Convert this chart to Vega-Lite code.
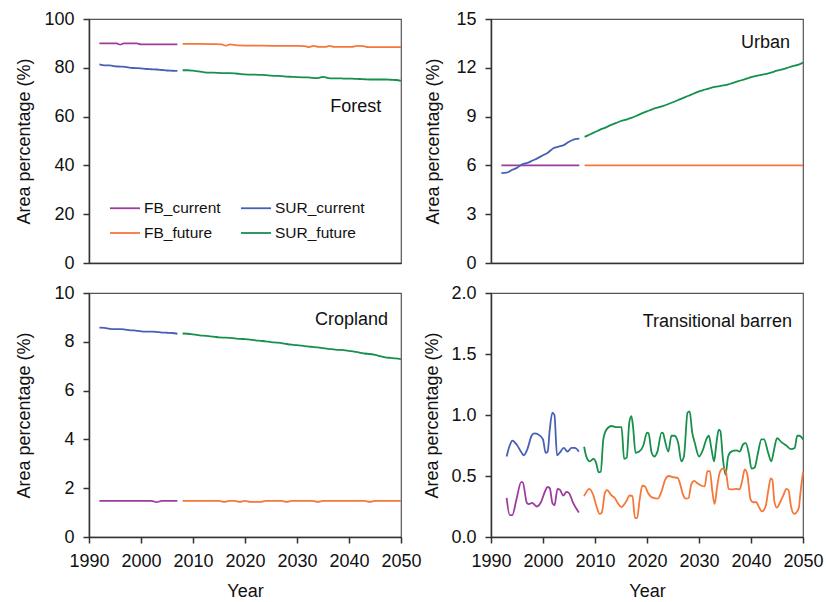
{
  "$schema": "https://vega.github.io/schema/vega-lite/v6.json",
  "padding": {"left": 15, "top": 9, "right": 0, "bottom": 2},
  "background": "white",
  "config": {
    "font": "Liberation Sans",
    "view": {"stroke": "#555555", "strokeWidth": 1.2},
    "axis": {
      "grid": false,
      "domainColor": "#333333",
      "domainWidth": 1.5,
      "tickColor": "#333333",
      "tickWidth": 1.5,
      "tickSize": 6,
      "labelFontSize": 18,
      "labelColor": "#111111",
      "labelPadding": 9,
      "labelOverlap": false,
      "labelFlush": false,
      "titleFontSize": 18,
      "titleFontWeight": "normal",
      "titleColor": "#111111"
    }
  },
  "datasets": {
    "forest": [
      {"series": "FB_current", "year": 1992, "value": 90.0},
      {"series": "FB_current", "year": 1994, "value": 90.0},
      {"series": "FB_current", "year": 1995.3, "value": 90.0},
      {"series": "FB_current", "year": 1996, "value": 89.5},
      {"series": "FB_current", "year": 1996.7, "value": 90.0},
      {"series": "FB_current", "year": 1999.2, "value": 90.0},
      {"series": "FB_current", "year": 2000, "value": 89.6},
      {"series": "FB_current", "year": 2003, "value": 89.6},
      {"series": "FB_current", "year": 2007, "value": 89.6},
      {"series": "SUR_current", "year": 1992, "value": 81.4},
      {"series": "SUR_current", "year": 1993, "value": 81.0},
      {"series": "SUR_current", "year": 1994, "value": 81.0},
      {"series": "SUR_current", "year": 1995, "value": 80.6},
      {"series": "SUR_current", "year": 1996, "value": 80.5},
      {"series": "SUR_current", "year": 1997, "value": 80.4},
      {"series": "SUR_current", "year": 1998, "value": 80.0},
      {"series": "SUR_current", "year": 1999, "value": 79.9},
      {"series": "SUR_current", "year": 2000, "value": 79.8},
      {"series": "SUR_current", "year": 2001, "value": 79.5},
      {"series": "SUR_current", "year": 2002, "value": 79.4},
      {"series": "SUR_current", "year": 2003, "value": 79.3},
      {"series": "SUR_current", "year": 2004, "value": 79.1},
      {"series": "SUR_current", "year": 2005, "value": 78.9},
      {"series": "SUR_current", "year": 2006, "value": 78.8},
      {"series": "SUR_current", "year": 2007, "value": 78.7},
      {"series": "FB_future", "year": 2008, "value": 89.8},
      {"series": "FB_future", "year": 2011, "value": 89.8},
      {"series": "FB_future", "year": 2014, "value": 89.7},
      {"series": "FB_future", "year": 2015.5, "value": 89.6},
      {"series": "FB_future", "year": 2016.3, "value": 89.1},
      {"series": "FB_future", "year": 2017.2, "value": 89.6},
      {"series": "FB_future", "year": 2018.5, "value": 89.2},
      {"series": "FB_future", "year": 2022, "value": 89.1},
      {"series": "FB_future", "year": 2026, "value": 89.0},
      {"series": "FB_future", "year": 2030, "value": 89.0},
      {"series": "FB_future", "year": 2031.5, "value": 88.9},
      {"series": "FB_future", "year": 2032.3, "value": 88.5},
      {"series": "FB_future", "year": 2033.2, "value": 89.0},
      {"series": "FB_future", "year": 2034.2, "value": 88.6},
      {"series": "FB_future", "year": 2035.5, "value": 88.6},
      {"series": "FB_future", "year": 2036.2, "value": 89.0},
      {"series": "FB_future", "year": 2037.2, "value": 88.6},
      {"series": "FB_future", "year": 2040.5, "value": 88.6},
      {"series": "FB_future", "year": 2041.6, "value": 89.0},
      {"series": "FB_future", "year": 2042.8, "value": 88.9},
      {"series": "FB_future", "year": 2043.6, "value": 88.5},
      {"series": "FB_future", "year": 2047, "value": 88.5},
      {"series": "FB_future", "year": 2050, "value": 88.5},
      {"series": "SUR_future", "year": 2008, "value": 79.0},
      {"series": "SUR_future", "year": 2009, "value": 79.0},
      {"series": "SUR_future", "year": 2010, "value": 78.8},
      {"series": "SUR_future", "year": 2011, "value": 78.5},
      {"series": "SUR_future", "year": 2012, "value": 78.2},
      {"series": "SUR_future", "year": 2013, "value": 78.0},
      {"series": "SUR_future", "year": 2014, "value": 78.0},
      {"series": "SUR_future", "year": 2015, "value": 77.9},
      {"series": "SUR_future", "year": 2016, "value": 77.8},
      {"series": "SUR_future", "year": 2017, "value": 77.8},
      {"series": "SUR_future", "year": 2018, "value": 77.7},
      {"series": "SUR_future", "year": 2019, "value": 77.5},
      {"series": "SUR_future", "year": 2020, "value": 77.3},
      {"series": "SUR_future", "year": 2021, "value": 77.2},
      {"series": "SUR_future", "year": 2022, "value": 77.2},
      {"series": "SUR_future", "year": 2023, "value": 77.1},
      {"series": "SUR_future", "year": 2024, "value": 77.0},
      {"series": "SUR_future", "year": 2025, "value": 76.8},
      {"series": "SUR_future", "year": 2026, "value": 76.7},
      {"series": "SUR_future", "year": 2027, "value": 76.6},
      {"series": "SUR_future", "year": 2028, "value": 76.4},
      {"series": "SUR_future", "year": 2029, "value": 76.3},
      {"series": "SUR_future", "year": 2030, "value": 76.2},
      {"series": "SUR_future", "year": 2031, "value": 76.1},
      {"series": "SUR_future", "year": 2032, "value": 76.1},
      {"series": "SUR_future", "year": 2033, "value": 75.9},
      {"series": "SUR_future", "year": 2034, "value": 75.8},
      {"series": "SUR_future", "year": 2035, "value": 76.3},
      {"series": "SUR_future", "year": 2036, "value": 75.8},
      {"series": "SUR_future", "year": 2037, "value": 75.7},
      {"series": "SUR_future", "year": 2038, "value": 75.7},
      {"series": "SUR_future", "year": 2039, "value": 75.6},
      {"series": "SUR_future", "year": 2040, "value": 75.6},
      {"series": "SUR_future", "year": 2041, "value": 75.5},
      {"series": "SUR_future", "year": 2042, "value": 75.4},
      {"series": "SUR_future", "year": 2043, "value": 75.3},
      {"series": "SUR_future", "year": 2044, "value": 75.2},
      {"series": "SUR_future", "year": 2045, "value": 75.2},
      {"series": "SUR_future", "year": 2046, "value": 75.2},
      {"series": "SUR_future", "year": 2047, "value": 75.2},
      {"series": "SUR_future", "year": 2048, "value": 75.1},
      {"series": "SUR_future", "year": 2049, "value": 75.0},
      {"series": "SUR_future", "year": 2050, "value": 74.6}
    ],
    "urban": [
      {"series": "FB_current", "year": 1992, "value": 6.0},
      {"series": "FB_current", "year": 2000, "value": 6.0},
      {"series": "FB_current", "year": 2007, "value": 6.0},
      {"series": "FB_future", "year": 2008, "value": 6.0},
      {"series": "FB_future", "year": 2030, "value": 6.0},
      {"series": "FB_future", "year": 2050, "value": 6.0},
      {"series": "SUR_current", "year": 1992, "value": 5.52},
      {"series": "SUR_current", "year": 1993, "value": 5.55},
      {"series": "SUR_current", "year": 1994, "value": 5.72},
      {"series": "SUR_current", "year": 1995, "value": 5.85},
      {"series": "SUR_current", "year": 1996, "value": 6.07},
      {"series": "SUR_current", "year": 1997, "value": 6.15},
      {"series": "SUR_current", "year": 1998, "value": 6.3},
      {"series": "SUR_current", "year": 1999, "value": 6.45},
      {"series": "SUR_current", "year": 2000, "value": 6.62},
      {"series": "SUR_current", "year": 2001, "value": 6.8},
      {"series": "SUR_current", "year": 2002, "value": 7.05},
      {"series": "SUR_current", "year": 2003, "value": 7.15},
      {"series": "SUR_current", "year": 2004, "value": 7.25},
      {"series": "SUR_current", "year": 2005, "value": 7.45},
      {"series": "SUR_current", "year": 2006, "value": 7.6},
      {"series": "SUR_current", "year": 2007, "value": 7.65},
      {"series": "SUR_future", "year": 2008, "value": 7.75},
      {"series": "SUR_future", "year": 2009, "value": 7.9},
      {"series": "SUR_future", "year": 2010, "value": 8.05},
      {"series": "SUR_future", "year": 2011, "value": 8.2},
      {"series": "SUR_future", "year": 2012, "value": 8.32},
      {"series": "SUR_future", "year": 2013, "value": 8.48},
      {"series": "SUR_future", "year": 2014, "value": 8.6},
      {"series": "SUR_future", "year": 2015, "value": 8.73},
      {"series": "SUR_future", "year": 2016, "value": 8.82},
      {"series": "SUR_future", "year": 2017, "value": 8.92},
      {"series": "SUR_future", "year": 2018, "value": 9.05},
      {"series": "SUR_future", "year": 2019, "value": 9.2},
      {"series": "SUR_future", "year": 2020, "value": 9.32},
      {"series": "SUR_future", "year": 2021, "value": 9.45},
      {"series": "SUR_future", "year": 2022, "value": 9.55},
      {"series": "SUR_future", "year": 2023, "value": 9.65},
      {"series": "SUR_future", "year": 2024, "value": 9.76},
      {"series": "SUR_future", "year": 2025, "value": 9.88},
      {"series": "SUR_future", "year": 2026, "value": 10.02},
      {"series": "SUR_future", "year": 2027, "value": 10.15},
      {"series": "SUR_future", "year": 2028, "value": 10.28},
      {"series": "SUR_future", "year": 2029, "value": 10.42},
      {"series": "SUR_future", "year": 2030, "value": 10.55},
      {"series": "SUR_future", "year": 2031, "value": 10.65},
      {"series": "SUR_future", "year": 2032, "value": 10.74},
      {"series": "SUR_future", "year": 2033, "value": 10.82},
      {"series": "SUR_future", "year": 2034, "value": 10.88},
      {"series": "SUR_future", "year": 2035, "value": 10.93},
      {"series": "SUR_future", "year": 2036, "value": 11.02},
      {"series": "SUR_future", "year": 2037, "value": 11.12},
      {"series": "SUR_future", "year": 2038, "value": 11.22},
      {"series": "SUR_future", "year": 2039, "value": 11.32},
      {"series": "SUR_future", "year": 2040, "value": 11.42},
      {"series": "SUR_future", "year": 2041, "value": 11.5},
      {"series": "SUR_future", "year": 2042, "value": 11.57},
      {"series": "SUR_future", "year": 2043, "value": 11.63},
      {"series": "SUR_future", "year": 2044, "value": 11.72},
      {"series": "SUR_future", "year": 2045, "value": 11.82},
      {"series": "SUR_future", "year": 2046, "value": 11.9},
      {"series": "SUR_future", "year": 2047, "value": 12.0},
      {"series": "SUR_future", "year": 2048, "value": 12.1},
      {"series": "SUR_future", "year": 2049, "value": 12.18},
      {"series": "SUR_future", "year": 2050, "value": 12.32}
    ],
    "cropland": [
      {"series": "FB_current", "year": 1992, "value": 1.48},
      {"series": "FB_current", "year": 2002, "value": 1.48},
      {"series": "FB_current", "year": 2003, "value": 1.43},
      {"series": "FB_current", "year": 2004, "value": 1.48},
      {"series": "FB_current", "year": 2007, "value": 1.48},
      {"series": "FB_future", "year": 2008, "value": 1.48},
      {"series": "FB_future", "year": 2015, "value": 1.48},
      {"series": "FB_future", "year": 2016, "value": 1.44},
      {"series": "FB_future", "year": 2017, "value": 1.48},
      {"series": "FB_future", "year": 2018, "value": 1.48},
      {"series": "FB_future", "year": 2019, "value": 1.44},
      {"series": "FB_future", "year": 2020, "value": 1.48},
      {"series": "FB_future", "year": 2021, "value": 1.44},
      {"series": "FB_future", "year": 2023, "value": 1.44},
      {"series": "FB_future", "year": 2024, "value": 1.48},
      {"series": "FB_future", "year": 2027, "value": 1.48},
      {"series": "FB_future", "year": 2028, "value": 1.44},
      {"series": "FB_future", "year": 2029, "value": 1.48},
      {"series": "FB_future", "year": 2033, "value": 1.48},
      {"series": "FB_future", "year": 2034, "value": 1.44},
      {"series": "FB_future", "year": 2035, "value": 1.48},
      {"series": "FB_future", "year": 2043, "value": 1.48},
      {"series": "FB_future", "year": 2044, "value": 1.44},
      {"series": "FB_future", "year": 2045, "value": 1.48},
      {"series": "FB_future", "year": 2050, "value": 1.48},
      {"series": "SUR_current", "year": 1992, "value": 8.58},
      {"series": "SUR_current", "year": 1993, "value": 8.57},
      {"series": "SUR_current", "year": 1994, "value": 8.53},
      {"series": "SUR_current", "year": 1995, "value": 8.52},
      {"series": "SUR_current", "year": 1996, "value": 8.52},
      {"series": "SUR_current", "year": 1997, "value": 8.5},
      {"series": "SUR_current", "year": 1998, "value": 8.47},
      {"series": "SUR_current", "year": 1999, "value": 8.46},
      {"series": "SUR_current", "year": 2000, "value": 8.43},
      {"series": "SUR_current", "year": 2001, "value": 8.42},
      {"series": "SUR_current", "year": 2002, "value": 8.42},
      {"series": "SUR_current", "year": 2003, "value": 8.41},
      {"series": "SUR_current", "year": 2004, "value": 8.38},
      {"series": "SUR_current", "year": 2005, "value": 8.37},
      {"series": "SUR_current", "year": 2006, "value": 8.36},
      {"series": "SUR_current", "year": 2007, "value": 8.33},
      {"series": "SUR_future", "year": 2008, "value": 8.34},
      {"series": "SUR_future", "year": 2009, "value": 8.33},
      {"series": "SUR_future", "year": 2010, "value": 8.3},
      {"series": "SUR_future", "year": 2011, "value": 8.27},
      {"series": "SUR_future", "year": 2012, "value": 8.25},
      {"series": "SUR_future", "year": 2013, "value": 8.23},
      {"series": "SUR_future", "year": 2014, "value": 8.21},
      {"series": "SUR_future", "year": 2015, "value": 8.18},
      {"series": "SUR_future", "year": 2016, "value": 8.17},
      {"series": "SUR_future", "year": 2017, "value": 8.16},
      {"series": "SUR_future", "year": 2018, "value": 8.14},
      {"series": "SUR_future", "year": 2019, "value": 8.12},
      {"series": "SUR_future", "year": 2020, "value": 8.11},
      {"series": "SUR_future", "year": 2021, "value": 8.09},
      {"series": "SUR_future", "year": 2022, "value": 8.06},
      {"series": "SUR_future", "year": 2023, "value": 8.04},
      {"series": "SUR_future", "year": 2024, "value": 8.02},
      {"series": "SUR_future", "year": 2025, "value": 7.99},
      {"series": "SUR_future", "year": 2026, "value": 7.97},
      {"series": "SUR_future", "year": 2027, "value": 7.95},
      {"series": "SUR_future", "year": 2028, "value": 7.91},
      {"series": "SUR_future", "year": 2029, "value": 7.88},
      {"series": "SUR_future", "year": 2030, "value": 7.86},
      {"series": "SUR_future", "year": 2031, "value": 7.84},
      {"series": "SUR_future", "year": 2032, "value": 7.81},
      {"series": "SUR_future", "year": 2033, "value": 7.79},
      {"series": "SUR_future", "year": 2034, "value": 7.77},
      {"series": "SUR_future", "year": 2035, "value": 7.74},
      {"series": "SUR_future", "year": 2036, "value": 7.71},
      {"series": "SUR_future", "year": 2037, "value": 7.69},
      {"series": "SUR_future", "year": 2038, "value": 7.67},
      {"series": "SUR_future", "year": 2039, "value": 7.66},
      {"series": "SUR_future", "year": 2040, "value": 7.63},
      {"series": "SUR_future", "year": 2041, "value": 7.6},
      {"series": "SUR_future", "year": 2042, "value": 7.56},
      {"series": "SUR_future", "year": 2043, "value": 7.52},
      {"series": "SUR_future", "year": 2044, "value": 7.5},
      {"series": "SUR_future", "year": 2045, "value": 7.46},
      {"series": "SUR_future", "year": 2046, "value": 7.41},
      {"series": "SUR_future", "year": 2047, "value": 7.36},
      {"series": "SUR_future", "year": 2048, "value": 7.34},
      {"series": "SUR_future", "year": 2049, "value": 7.32},
      {"series": "SUR_future", "year": 2050, "value": 7.29}
    ],
    "barren": [
      {"series": "SUR_current", "year": 1993.0, "value": 0.66},
      {"series": "SUR_current", "year": 1993.6, "value": 0.75},
      {"series": "SUR_current", "year": 1994.1, "value": 0.79},
      {"series": "SUR_current", "year": 1994.9, "value": 0.76},
      {"series": "SUR_current", "year": 1995.9, "value": 0.69},
      {"series": "SUR_current", "year": 1996.3, "value": 0.67},
      {"series": "SUR_current", "year": 1997.0, "value": 0.72},
      {"series": "SUR_current", "year": 1997.8, "value": 0.83},
      {"series": "SUR_current", "year": 1998.3, "value": 0.85},
      {"series": "SUR_current", "year": 1999.1, "value": 0.84},
      {"series": "SUR_current", "year": 2000.0, "value": 0.8},
      {"series": "SUR_current", "year": 2000.5, "value": 0.69},
      {"series": "SUR_current", "year": 2000.9, "value": 0.7},
      {"series": "SUR_current", "year": 2001.3, "value": 0.88},
      {"series": "SUR_current", "year": 2001.8, "value": 1.02},
      {"series": "SUR_current", "year": 2002.2, "value": 1.0},
      {"series": "SUR_current", "year": 2002.7, "value": 0.67},
      {"series": "SUR_current", "year": 2003.2, "value": 0.69},
      {"series": "SUR_current", "year": 2004.0, "value": 0.73},
      {"series": "SUR_current", "year": 2004.7, "value": 0.7},
      {"series": "SUR_current", "year": 2005.5, "value": 0.73},
      {"series": "SUR_current", "year": 2006.1, "value": 0.73},
      {"series": "SUR_current", "year": 2006.9, "value": 0.7},
      {"series": "FB_current", "year": 1993.0, "value": 0.32},
      {"series": "FB_current", "year": 1993.6, "value": 0.18},
      {"series": "FB_current", "year": 1994.1, "value": 0.18},
      {"series": "FB_current", "year": 1994.9, "value": 0.31},
      {"series": "FB_current", "year": 1995.8, "value": 0.45},
      {"series": "FB_current", "year": 1996.1, "value": 0.45},
      {"series": "FB_current", "year": 1996.9, "value": 0.28},
      {"series": "FB_current", "year": 1997.3, "value": 0.27},
      {"series": "FB_current", "year": 1997.9, "value": 0.28},
      {"series": "FB_current", "year": 1998.8, "value": 0.25},
      {"series": "FB_current", "year": 1999.6, "value": 0.285},
      {"series": "FB_current", "year": 2000.4, "value": 0.375},
      {"series": "FB_current", "year": 2000.9, "value": 0.41},
      {"series": "FB_current", "year": 2001.3, "value": 0.4},
      {"series": "FB_current", "year": 2001.8, "value": 0.28},
      {"series": "FB_current", "year": 2002.2, "value": 0.26},
      {"series": "FB_current", "year": 2002.8, "value": 0.395},
      {"series": "FB_current", "year": 2003.2, "value": 0.39},
      {"series": "FB_current", "year": 2003.9, "value": 0.34},
      {"series": "FB_current", "year": 2004.5, "value": 0.37},
      {"series": "FB_current", "year": 2005.0, "value": 0.36},
      {"series": "FB_current", "year": 2005.8, "value": 0.28},
      {"series": "FB_current", "year": 2006.9, "value": 0.2},
      {"series": "SUR_future", "year": 2007.9, "value": 0.74},
      {"series": "SUR_future", "year": 2008.4, "value": 0.65},
      {"series": "SUR_future", "year": 2009.0, "value": 0.62},
      {"series": "SUR_future", "year": 2009.7, "value": 0.64},
      {"series": "SUR_future", "year": 2010.2, "value": 0.61},
      {"series": "SUR_future", "year": 2010.7, "value": 0.53},
      {"series": "SUR_future", "year": 2011.1, "value": 0.535},
      {"series": "SUR_future", "year": 2011.6, "value": 0.8},
      {"series": "SUR_future", "year": 2012.2, "value": 0.88},
      {"series": "SUR_future", "year": 2013.2, "value": 0.91},
      {"series": "SUR_future", "year": 2014.1, "value": 0.9},
      {"series": "SUR_future", "year": 2015.1, "value": 0.9},
      {"series": "SUR_future", "year": 2015.6, "value": 0.64},
      {"series": "SUR_future", "year": 2016.1, "value": 0.65},
      {"series": "SUR_future", "year": 2016.6, "value": 0.94},
      {"series": "SUR_future", "year": 2017.0, "value": 0.99},
      {"series": "SUR_future", "year": 2017.3, "value": 0.91},
      {"series": "SUR_future", "year": 2017.8, "value": 0.69},
      {"series": "SUR_future", "year": 2018.5, "value": 0.7},
      {"series": "SUR_future", "year": 2019.3, "value": 0.75},
      {"series": "SUR_future", "year": 2020.0, "value": 0.855},
      {"series": "SUR_future", "year": 2020.3, "value": 0.85},
      {"series": "SUR_future", "year": 2020.9, "value": 0.69},
      {"series": "SUR_future", "year": 2021.4, "value": 0.66},
      {"series": "SUR_future", "year": 2022.0, "value": 0.7},
      {"series": "SUR_future", "year": 2022.8, "value": 0.855},
      {"series": "SUR_future", "year": 2023.1, "value": 0.85},
      {"series": "SUR_future", "year": 2023.4, "value": 0.8},
      {"series": "SUR_future", "year": 2024.1, "value": 0.7},
      {"series": "SUR_future", "year": 2024.7, "value": 0.83},
      {"series": "SUR_future", "year": 2025.3, "value": 0.83},
      {"series": "SUR_future", "year": 2026.0, "value": 0.77},
      {"series": "SUR_future", "year": 2026.6, "value": 0.62},
      {"series": "SUR_future", "year": 2027.1, "value": 0.66},
      {"series": "SUR_future", "year": 2027.8, "value": 1.02},
      {"series": "SUR_future", "year": 2028.2, "value": 1.03},
      {"series": "SUR_future", "year": 2028.7, "value": 0.855},
      {"series": "SUR_future", "year": 2029.2, "value": 0.77},
      {"series": "SUR_future", "year": 2030.0, "value": 0.66},
      {"series": "SUR_future", "year": 2030.8, "value": 0.72},
      {"series": "SUR_future", "year": 2031.4, "value": 0.8},
      {"series": "SUR_future", "year": 2031.9, "value": 0.83},
      {"series": "SUR_future", "year": 2032.4, "value": 0.72},
      {"series": "SUR_future", "year": 2032.9, "value": 0.62},
      {"series": "SUR_future", "year": 2033.3, "value": 0.75},
      {"series": "SUR_future", "year": 2033.8, "value": 0.88},
      {"series": "SUR_future", "year": 2034.1, "value": 0.87},
      {"series": "SUR_future", "year": 2034.6, "value": 0.64},
      {"series": "SUR_future", "year": 2035.1, "value": 0.51},
      {"series": "SUR_future", "year": 2035.6, "value": 0.66},
      {"series": "SUR_future", "year": 2036.2, "value": 0.7},
      {"series": "SUR_future", "year": 2037.2, "value": 0.71},
      {"series": "SUR_future", "year": 2037.8, "value": 0.7},
      {"series": "SUR_future", "year": 2038.5, "value": 0.76},
      {"series": "SUR_future", "year": 2039.0, "value": 0.77},
      {"series": "SUR_future", "year": 2039.6, "value": 0.68},
      {"series": "SUR_future", "year": 2040.1, "value": 0.56},
      {"series": "SUR_future", "year": 2040.7, "value": 0.57},
      {"series": "SUR_future", "year": 2041.3, "value": 0.68},
      {"series": "SUR_future", "year": 2042.0, "value": 0.8},
      {"series": "SUR_future", "year": 2042.5, "value": 0.8},
      {"series": "SUR_future", "year": 2043.3, "value": 0.69},
      {"series": "SUR_future", "year": 2043.9, "value": 0.62},
      {"series": "SUR_future", "year": 2044.5, "value": 0.73},
      {"series": "SUR_future", "year": 2045.0, "value": 0.81},
      {"series": "SUR_future", "year": 2045.8, "value": 0.78},
      {"series": "SUR_future", "year": 2046.8, "value": 0.75},
      {"series": "SUR_future", "year": 2047.7, "value": 0.72},
      {"series": "SUR_future", "year": 2048.4, "value": 0.73},
      {"series": "SUR_future", "year": 2048.9, "value": 0.83},
      {"series": "SUR_future", "year": 2049.3, "value": 0.83},
      {"series": "SUR_future", "year": 2050.0, "value": 0.8},
      {"series": "FB_future", "year": 2007.9, "value": 0.335},
      {"series": "FB_future", "year": 2008.9, "value": 0.395},
      {"series": "FB_future", "year": 2009.7, "value": 0.34},
      {"series": "FB_future", "year": 2010.3, "value": 0.25},
      {"series": "FB_future", "year": 2010.9, "value": 0.19},
      {"series": "FB_future", "year": 2011.3, "value": 0.2},
      {"series": "FB_future", "year": 2011.9, "value": 0.36},
      {"series": "FB_future", "year": 2012.3, "value": 0.385},
      {"series": "FB_future", "year": 2013.2, "value": 0.34},
      {"series": "FB_future", "year": 2013.8, "value": 0.32},
      {"series": "FB_future", "year": 2014.5, "value": 0.27},
      {"series": "FB_future", "year": 2015.1, "value": 0.245},
      {"series": "FB_future", "year": 2015.9, "value": 0.285},
      {"series": "FB_future", "year": 2016.7, "value": 0.34},
      {"series": "FB_future", "year": 2017.2, "value": 0.335},
      {"series": "FB_future", "year": 2017.7, "value": 0.155},
      {"series": "FB_future", "year": 2018.1, "value": 0.155},
      {"series": "FB_future", "year": 2018.6, "value": 0.31},
      {"series": "FB_future", "year": 2019.1, "value": 0.42},
      {"series": "FB_future", "year": 2019.6, "value": 0.415},
      {"series": "FB_future", "year": 2020.2, "value": 0.36},
      {"series": "FB_future", "year": 2021.2, "value": 0.32},
      {"series": "FB_future", "year": 2022.1, "value": 0.315},
      {"series": "FB_future", "year": 2022.8, "value": 0.375},
      {"series": "FB_future", "year": 2023.5, "value": 0.47},
      {"series": "FB_future", "year": 2024.2, "value": 0.5},
      {"series": "FB_future", "year": 2025.0, "value": 0.49},
      {"series": "FB_future", "year": 2025.9, "value": 0.485},
      {"series": "FB_future", "year": 2026.3, "value": 0.445},
      {"series": "FB_future", "year": 2026.9, "value": 0.35},
      {"series": "FB_future", "year": 2027.5, "value": 0.315},
      {"series": "FB_future", "year": 2028.0, "value": 0.32},
      {"series": "FB_future", "year": 2028.5, "value": 0.43},
      {"series": "FB_future", "year": 2029.1, "value": 0.46},
      {"series": "FB_future", "year": 2029.7, "value": 0.44},
      {"series": "FB_future", "year": 2030.5, "value": 0.42},
      {"series": "FB_future", "year": 2031.1, "value": 0.415},
      {"series": "FB_future", "year": 2031.6, "value": 0.54},
      {"series": "FB_future", "year": 2032.1, "value": 0.54},
      {"series": "FB_future", "year": 2032.6, "value": 0.36},
      {"series": "FB_future", "year": 2033.0, "value": 0.27},
      {"series": "FB_future", "year": 2033.5, "value": 0.415},
      {"series": "FB_future", "year": 2034.0, "value": 0.53},
      {"series": "FB_future", "year": 2034.6, "value": 0.56},
      {"series": "FB_future", "year": 2035.1, "value": 0.55},
      {"series": "FB_future", "year": 2035.7, "value": 0.395},
      {"series": "FB_future", "year": 2036.4, "value": 0.39},
      {"series": "FB_future", "year": 2037.2, "value": 0.395},
      {"series": "FB_future", "year": 2037.8, "value": 0.39},
      {"series": "FB_future", "year": 2038.3, "value": 0.46},
      {"series": "FB_future", "year": 2038.8, "value": 0.555},
      {"series": "FB_future", "year": 2039.3, "value": 0.51},
      {"series": "FB_future", "year": 2039.9, "value": 0.31},
      {"series": "FB_future", "year": 2040.4, "value": 0.285},
      {"series": "FB_future", "year": 2041.0, "value": 0.285},
      {"series": "FB_future", "year": 2041.6, "value": 0.24},
      {"series": "FB_future", "year": 2042.1, "value": 0.21},
      {"series": "FB_future", "year": 2042.8, "value": 0.25},
      {"series": "FB_future", "year": 2043.3, "value": 0.375},
      {"series": "FB_future", "year": 2043.8, "value": 0.48},
      {"series": "FB_future", "year": 2044.1, "value": 0.47},
      {"series": "FB_future", "year": 2044.5, "value": 0.29},
      {"series": "FB_future", "year": 2045.0, "value": 0.24},
      {"series": "FB_future", "year": 2045.6, "value": 0.285},
      {"series": "FB_future", "year": 2046.3, "value": 0.35},
      {"series": "FB_future", "year": 2046.8, "value": 0.395},
      {"series": "FB_future", "year": 2047.2, "value": 0.385},
      {"series": "FB_future", "year": 2047.7, "value": 0.25},
      {"series": "FB_future", "year": 2048.3, "value": 0.19},
      {"series": "FB_future", "year": 2048.7, "value": 0.2},
      {"series": "FB_future", "year": 2049.2, "value": 0.24},
      {"series": "FB_future", "year": 2049.5, "value": 0.36},
      {"series": "FB_future", "year": 2050.0, "value": 0.53}
    ],
    "labels": [
      {"panel": "forest", "label": "Forest", "year": 2046.2, "value": 64},
      {"panel": "urban", "label": "Urban", "year": 2047.5, "value": 13.5},
      {"panel": "cropland", "label": "Cropland", "year": 2047.5, "value": 8.9},
      {"panel": "barren", "label": "Transitional barren", "year": 2047.9, "value": 1.76}
    ]
  },
  "columns": 2,
  "spacing": {"row": 10, "column": 1},
  "resolve": {
    "scale": {"x": "independent", "y": "independent", "color": "independent"},
    "legend": {"color": "independent"},
    "axis": {"x": "independent", "y": "independent"}
  },
  "concat": [
    {
      "width": 312,
      "height": 244,
      "layer": [
        {
          "data": {"name": "forest"},
          "mark": {"type": "line", "interpolate": "monotone", "strokeWidth": 1.8},
          "encoding": {
            "x": {"field": "year", "type": "quantitative", "scale": {"domain": [1990, 2050], "nice": false, "zero": false},
              "axis": {"labels": false, "ticks": false, "title": null}},
            "y": {"field": "value", "type": "quantitative", "scale": {"domain": [0, 100], "nice": false},
              "axis": {"values": [0, 20, 40, 60, 80, 100], "title": "Area percentage (%)", "titlePadding": 10}},
            "color": {"field": "series", "type": "nominal",
              "scale": {"domain": ["FB_current", "FB_future", "SUR_current", "SUR_future"], "range": ["#9c3d9e", "#f6773a", "#4760b5", "#17904c"]},
              "legend": {"orient": "none", "legendX": 20, "legendY": 173, "columns": 2, "title": null,
                "symbolType": "stroke", "symbolSize": 900, "symbolStrokeWidth": 1.8, "labelFontSize": 15.5,
                "labelColor": "#111111", "columnPadding": 16, "rowPadding": -16, "labelOffset": 3}}
          }
        },
        {
          "data": {"name": "labels"},
          "transform": [{"filter": "datum.panel == 'forest'"}],
          "mark": {"type": "text", "align": "right", "baseline": "middle", "fontSize": 18, "color": "#111111"},
          "encoding": {
            "x": {"field": "year", "type": "quantitative"},
            "y": {"field": "value", "type": "quantitative"},
            "text": {"field": "label"}
          }
        }
      ]
    },
    {
      "width": 312,
      "height": 244,
      "layer": [
        {
          "data": {"name": "urban"},
          "mark": {"type": "line", "interpolate": "monotone", "strokeWidth": 1.8},
          "encoding": {
            "x": {"field": "year", "type": "quantitative", "scale": {"domain": [1990, 2050], "nice": false, "zero": false},
              "axis": {"labels": false, "ticks": false, "title": null}},
            "y": {"field": "value", "type": "quantitative", "scale": {"domain": [0, 15], "nice": false},
              "axis": {"values": [0, 3, 6, 9, 12, 15], "title": "Area percentage (%)", "titlePadding": 13}},
            "color": {"field": "series", "type": "nominal",
              "scale": {"domain": ["FB_current", "FB_future", "SUR_current", "SUR_future"], "range": ["#9c3d9e", "#f6773a", "#4760b5", "#17904c"]},
              "legend": null}
          }
        },
        {
          "data": {"name": "labels"},
          "transform": [{"filter": "datum.panel == 'urban'"}],
          "mark": {"type": "text", "align": "right", "baseline": "middle", "fontSize": 18, "color": "#111111"},
          "encoding": {
            "x": {"field": "year", "type": "quantitative"},
            "y": {"field": "value", "type": "quantitative"},
            "text": {"field": "label"}
          }
        }
      ]
    },
    {
      "width": 312,
      "height": 244,
      "layer": [
        {
          "data": {"name": "cropland"},
          "mark": {"type": "line", "interpolate": "monotone", "strokeWidth": 1.8},
          "encoding": {
            "x": {"field": "year", "type": "quantitative", "scale": {"domain": [1990, 2050], "nice": false, "zero": false},
              "axis": {"values": [1990, 2000, 2010, 2020, 2030, 2040, 2050], "format": "d", "title": "Year", "titlePadding": 12}},
            "y": {"field": "value", "type": "quantitative", "scale": {"domain": [0, 10], "nice": false},
              "axis": {"values": [0, 2, 4, 6, 8, 10], "title": "Area percentage (%)", "titlePadding": 20}},
            "color": {"field": "series", "type": "nominal",
              "scale": {"domain": ["FB_current", "FB_future", "SUR_current", "SUR_future"], "range": ["#9c3d9e", "#f6773a", "#4760b5", "#17904c"]},
              "legend": null}
          }
        },
        {
          "data": {"name": "labels"},
          "transform": [{"filter": "datum.panel == 'cropland'"}],
          "mark": {"type": "text", "align": "right", "baseline": "middle", "fontSize": 18, "color": "#111111"},
          "encoding": {
            "x": {"field": "year", "type": "quantitative"},
            "y": {"field": "value", "type": "quantitative"},
            "text": {"field": "label"}
          }
        }
      ]
    },
    {
      "width": 312,
      "height": 244,
      "layer": [
        {
          "data": {"name": "barren"},
          "mark": {"type": "line", "interpolate": "monotone", "strokeWidth": 1.8},
          "encoding": {
            "x": {"field": "year", "type": "quantitative", "scale": {"domain": [1990, 2050], "nice": false, "zero": false},
              "axis": {"values": [1990, 2000, 2010, 2020, 2030, 2040, 2050], "format": "d", "title": "Year", "titlePadding": 12}},
            "y": {"field": "value", "type": "quantitative", "scale": {"domain": [0, 2], "nice": false},
              "axis": {"values": [0, 0.5, 1, 1.5, 2], "format": ".1f", "title": "Area percentage (%)", "titlePadding": 9}},
            "color": {"field": "series", "type": "nominal",
              "scale": {"domain": ["FB_current", "FB_future", "SUR_current", "SUR_future"], "range": ["#9c3d9e", "#f6773a", "#4760b5", "#17904c"]},
              "legend": null}
          }
        },
        {
          "data": {"name": "labels"},
          "transform": [{"filter": "datum.panel == 'barren'"}],
          "mark": {"type": "text", "align": "right", "baseline": "middle", "fontSize": 18, "color": "#111111"},
          "encoding": {
            "x": {"field": "year", "type": "quantitative"},
            "y": {"field": "value", "type": "quantitative"},
            "text": {"field": "label"}
          }
        }
      ]
    }
  ]
}
